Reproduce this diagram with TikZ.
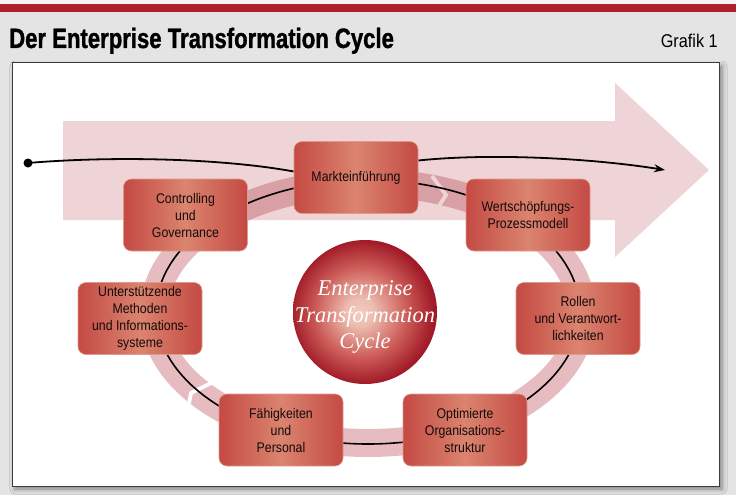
\documentclass[tikz,border=0pt]{standalone}
\usepackage{fontspec}
\setmainfont{Liberation Sans}
\newfontfamily\boxfont[FakeStretch=0.88]{Liberation Sans}
\newfontfamily\headfont[FakeStretch=0.79,FakeBold=1.2]{Liberation Sans}
\newfontfamily\cyclefont{Liberation Serif}
\usetikzlibrary{arrows.meta,shadows.blur}

\definecolor{pagegray}{HTML}{E4E4E4}
\definecolor{barred}{HTML}{B01F2D}
\definecolor{framegray}{HTML}{3C3C3C}
\definecolor{arrowpink}{HTML}{EED4D7}
\definecolor{ringpink}{HTML}{E7BCC0}
\definecolor{ringdeep}{HTML}{D89FA4}
\definecolor{boxedge}{HTML}{C44A43}
\definecolor{boxmid}{HTML}{DB846F}
\definecolor{boxrim}{HTML}{DE9A8C}
\definecolor{boxink}{HTML}{120A0A}
\definecolor{ballcore}{HTML}{F2CDBE}
\definecolor{ballmid}{HTML}{CC5A56}
\definecolor{ballrim}{HTML}{A01A27}

\pgfdeclareradialshading{ballshade}{\pgfpoint{-2bp}{0bp}}{%
  color(0bp)=(ballcore); color(5bp)=(ballcore!85!ballmid);
  color(16bp)=(ballmid); color(25bp)=(ballrim); color(50bp)=(ballrim)}

\pgfdeclarelayer{back}
\pgfdeclarelayer{lines}
\pgfsetlayers{back,lines,main}

\begin{document}
\begin{tikzpicture}[x=1pt,y=-1pt,
  stage/.style={rectangle, rounded corners=8pt, minimum width=124pt,
    minimum height=72pt, left color=boxedge, right color=boxedge,
    middle color=boxmid, draw=boxrim, line width=0.6pt, align=center,
    text=boxink, font=\boxfont\fontsize{14}{17}\selectfont, inner sep=2pt},
  cycleline/.style={line width=1.6pt, black},
  flowline/.style={line width=1.8pt, black},
  gapcut/.style={line width=3.8pt, line cap=butt, line join=miter}
]
\useasboundingbox (0,0) rectangle (736,495);

% the seven stages of the cycle
\node[stage] (markt)  at (356,177.5) {Markteinführung};
\node[stage] (contr)  at (185.5,215) {Controlling\\und\\Governance};
\node[stage] (wert)   at (528,215)   {Wertschöpfungs-\\Prozessmodell};
\node[stage] (method) at (140,318.5) {Unterstützende\\Methoden\\und Informations-\\systeme};
\node[stage] (rollen) at (578,318.5) {Rollen\\und Verantwort-\\lichkeiten};
\node[stage] (faehig) at (281,430)   {Fähigkeiten\\und\\Personal};
\node[stage] (orga)   at (465,430)   {Optimierte\\Organisations-\\struktur};

% centre ball
\node[circle, minimum size=144pt, inner sep=0, shade, shading=ballshade] (core) at (365,312) {};
\node[font=\cyclefont\itshape\fontsize{22.5}{26.5}\selectfont, text=white,
      align=center, inner sep=0] (coretext) at (365,317)
      {Enterprise\\Transformation\\Cycle};

% start point and end of the flow line
\node[circle, fill=black, inner sep=0, minimum size=9pt] (origin) at (28,163) {};
\coordinate (aim) at (665,170);

\begin{pgfonlayer}{back}
  \fill[pagegray] (0,0) rectangle (736,495);
  \fill[white!55!pagegray] (0,0) rectangle (736,4);
  \fill[barred] (0,4) rectangle (736,12);
  \node[anchor=base west, font=\headfont\bfseries\fontsize{28}{30}\selectfont,
        inner sep=0] (title) at (9,48) {Der Enterprise Transformation Cycle};
  \node[anchor=base east, font=\boxfont\fontsize{18.5}{20}\selectfont,
        inner sep=0] (grafik) at (718,48) {Grafik 1};
  \fill[white, draw=framegray, line width=1pt,
        blur shadow={shadow xshift=3pt, shadow yshift=-3pt,
                     shadow blur radius=5pt, shadow opacity=45}]
        (12,63) rectangle (719,486);
  % broad arrow
  \fill[arrowpink] (63,121) -- (615,121) -- (615,83) -- (709,170)
        -- (615,257) -- (615,220) -- (63,220) -- cycle;
  % ring, darker where it lies on the arrow
  \draw[ringpink, line width=28pt] (368,313) ellipse [x radius=214, y radius=130];
  \begin{scope}
    \clip (63,121) -- (615,121) -- (615,83) -- (709,170)
        -- (615,257) -- (615,220) -- (63,220) -- cycle;
    \draw[ringdeep, line width=28pt] (368,313) ellipse [x radius=214, y radius=130];
  \end{scope}
  % direction notches cut into the ring
  \draw[gapcut, arrowpink] (432,176) -- (446,195) -- (435,212);
  \draw[gapcut, white] (186,419) -- (191,393) -- (213,382);
\end{pgfonlayer}

\begin{pgfonlayer}{lines}
  \draw[cycleline] (368,312) ellipse [x radius=212, y radius=132];
  \draw[flowline] (origin.center) .. controls (110,156) and (220,158)
        .. ([yshift=6pt]markt.west);
  \draw[flowline, -{Stealth[length=11pt,width=8pt]}] ([yshift=17pt]markt.east)
        .. controls (490,153) and (590,158) .. (aim);
\end{pgfonlayer}
\end{tikzpicture}
\end{document}
